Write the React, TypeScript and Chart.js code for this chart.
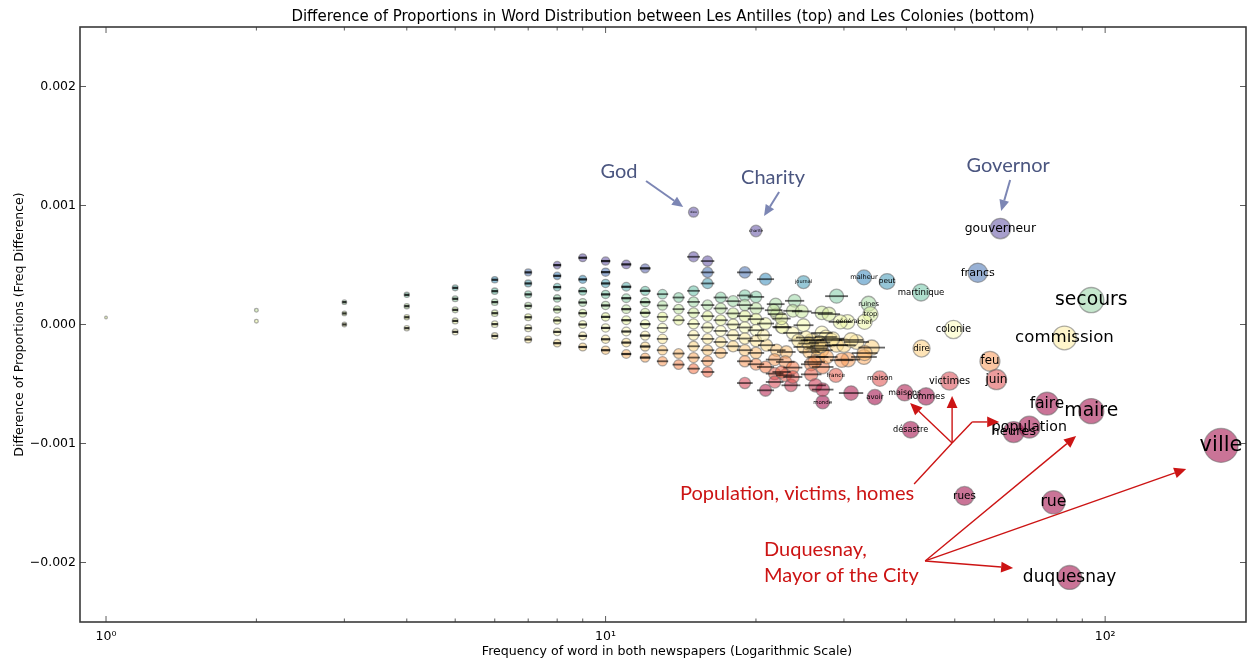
import { useEffect, useRef } from 'react';
import { Chart, registerables } from 'chart.js';

Chart.register(...registerables);

// ---------- DATA ----------
const TITLE = 'Difference of Proportions in Word Distribution between Les Antilles (top) and Les Colonies (bottom)';
const X_TITLE = 'Frequency of word in both newspapers (Logarithmic Scale)';
const Y_TITLE = 'Difference of Proportions (Freq Difference)';

const xTickValues = [1, 10, 100];
const xTickLabels = ['10\u2070', '10\u00b9', '10\u00b2'];
const yTickValues = [-0.002, -0.001, 0, 0.001, 0.002];
const yTickLabels = ['\u22120.002', '\u22120.001', '0.000', '0.001', '0.002'];

// unlabeled / illegible words: total frequency and difference (x 1e-4)
const cloudFreq = [
  1,
  2, 2,
  3, 3, 3,
  4, 4, 4, 4,
  5, 5, 5, 5, 5,
  6, 6, 6, 6, 6, 6,
  7, 7, 7, 7, 7, 7, 7,
  8, 8, 8, 8, 8, 8, 8, 8,
  9, 9, 9, 9, 9, 9, 9, 9,
  10, 10, 10, 10, 10, 10, 10, 10, 10,
  11, 11, 11, 11, 11, 11, 11, 11,
  12, 12, 12, 12, 12, 12, 12, 12,
  13, 13, 13, 13, 13, 13, 13,
  14, 14, 14, 14, 14,
  15, 15, 15, 15, 15, 15, 15, 15, 15,
  16, 16, 16, 16, 16, 16, 16, 16, 16, 16,
  17, 17, 17, 17, 17, 17,
  18, 18, 18, 18, 18,
  19, 19, 19, 19, 19, 19, 19, 19, 19,
  20, 20, 20, 20, 20, 20, 20,
  20.9, 21.9, 22.0, 23.9, 23.7, 24.7, 27.1, 28.0, 29.0, 29.5,
  24.9, 22.5, 23.7, 27.1, 26.1, 27.6, 28.3, 29.0, 30.0, 31.8,
  34.1, 30.6, 32.9, 24.9, 25.6, 26.6, 27.1, 21.0, 22.0, 23.0,
  21.8, 22.9, 25.8, 27.2, 23.7, 22.9, 21.8, 25.8, 21.8, 23.5,
  26.3, 27.2, 20.9, 31.0, 22.6, 20.9, 21.7, 22.5, 20.7, 25.8,
  26.5, 27.7, 26.2, 22.5, 23.7, 20.9, 25.2, 26.8, 28.5, 27.0,
  25.5, 24.3, 31.0, 33.0, 29.7,
];
const cloudDiffE4 = [
  0.59,
  1.2, 0.28,
  1.88, 0.93, 0.0,
  2.49, 1.54, 0.61, -0.31,
  3.08, 2.16, 1.23, 0.30, -0.62,
  3.76, 2.80, 1.88, 0.95, 0.03, -0.96,
  4.38, 3.45, 2.53, 1.57, 0.61, -0.31, -1.26,
  4.99, 4.09, 3.14, 2.19, 1.26, 0.34, -0.62, -1.57,
  5.61, 3.79, 2.80, 1.85, 0.95, 0.0, -0.96, -1.89,
  5.33, 4.40, 3.45, 2.53, 1.60, 0.64, -0.29, -1.24, -2.16,
  5.05, 3.17, 2.21, 1.29, 0.36, -0.59, -1.52, -2.48,
  4.72, 2.83, 1.88, 0.98, 0.03, -0.93, -1.85, -2.78,
  2.55, 1.60, 0.64, -0.29, -1.21, -2.16, -3.09,
  2.27, 1.29, 0.36, -2.44, -3.37,
  5.69, 2.83, 1.90, 0.98, 0.05, -0.90, -1.83, -2.78, -3.71,
  5.33, 4.38, 3.45, 1.63, 0.70, -0.25, -1.21, -2.16, -3.07, -3.99,
  2.27, 1.35, 0.36, -0.54, -1.47, -2.39,
  1.96, 0.93, 0.0, -0.90, -1.83,
  4.38, 2.44, 1.63, 0.70, -0.25, -1.18, -2.16, -3.09, -4.92,
  2.32, 1.35, 0.45, -0.48, -1.38, -2.39, -3.34,
  3.81, 1.71, 0.87, 1.99, 1.15, 1.10, 0.98, 0.87, 2.38, 0.22,
  -0.06, -0.2, -0.71, -0.71, -1.32, -1.05, -1.32, -1.74, -1.74, -1.47,
  -1.94, -2.95, -2.73, -1.89, -2.31, -2.73, -2.16, -1.74, -2.16, -2.31,
  -2.95, -3.15, -3.34, -3.57, -3.62, -4.27, -4.13, -4.19, -4.83, -5.11,
  -5.11, -5.47, -5.53, -5.76, -0.25, 0.08, 1.2, 0.5, -0.9, -1.32,
  -2.0, -2.73, -3.15, -3.99, -4.41, -3.57, -1.1, -1.5, -1.2, -1.8,
  -1.6, -1.35, -1.3, -2.4, -3.0,
];

// labelled words
const wordLabel = [
  'dieu', 'charité', 'journal', 'malheur', 'peut', 'martinique', 'ruines', 'trop', 'général', 'chef',
  'france', 'monde', 'maison', 'avoir', 'maisons', 'hommes', 'désastre', 'dire', 'colonie', 'victimes',
  'francs', 'gouverneur', 'feu', 'juin', 'rues', 'heures', 'population', 'faire', 'rue', 'commission',
  'duquesnay', 'maire', 'secours', 'ville',
];
const wordFreq = [
  15, 20, 24.9, 32.9, 36.6, 42.8, 33.6, 33.9, 30.5, 33.0,
  28.9, 27.2, 35.4, 34.6, 39.7, 43.8, 40.8, 42.9, 49.7, 48.8,
  55.6, 61.7, 58.8, 60.6, 52.3, 65.6, 70.5, 76.5, 78.8, 82.9,
  84.9, 93.8, 93.8, 170.6,
];
const wordDiffE4 = [
  9.44, 7.86, 3.56, 3.96, 3.62, 2.69, 1.74, 0.86, 0.22, 0.22,
  -4.27, -6.52, -4.55, -6.10, -5.73, -6.04, -8.84, -2.02, -0.42, -4.75,
  4.35, 8.06, -3.09, -4.63, -14.4, -9.04, -8.62, -6.65, -14.94, -1.13,
  -21.26, -7.28, 2.05, -10.16,
];

// annotations (data coordinates)
const noteText = ['God', 'Charity', 'Governor', 'Population, victims, homes', 'Duquesnay,', 'Mayor of the City'];
const noteX = [10.64, 21.64, 63.95, 24.17, 20.76, 20.76];
const noteY = [0.001282, 0.001239, 0.001332, -0.001424, -0.001887, -0.002113];
const noteAlign = ['center', 'center', 'center', 'center', 'left', 'left'];
const noteRed = [false, false, false, true, true, true];

// arrows with heads: from (x1,y1) to (x2,y2)
const arrowX1 = [12.05, 22.25, 64.54, 49.39, 49.39, 54.17, 43.62, 43.62, 43.62];
const arrowY1 = [0.001206, 0.001113, 0.001214, -0.000996, -0.000996, -0.000819, -0.001987, -0.001987, -0.001987];
const arrowX2 = [14.30, 20.76, 61.92, 40.70, 49.39, 61.36, 65.43, 87.48, 145.3];
const arrowY2 = [0.000987, 0.000912, 0.000954, -0.000660, -0.000601, -0.000819, -0.002046, -0.000937, -0.001214];
const arrowRed = [false, false, false, true, true, true, true, true, true];
// plain red connector lines
const lineX1 = [41.46, 49.39];
const lineY1 = [-0.001340, -0.000996];
const lineX2 = [49.39, 54.17];
const lineY2 = [-0.000996, -0.000819];

// ---------- STYLE HELPERS ----------
const SPECTRAL = [
  [158, 1, 66], [213, 62, 79], [244, 109, 67], [253, 174, 97], [254, 224, 139], [255, 255, 191],
  [230, 245, 152], [171, 221, 164], [102, 194, 165], [50, 136, 189], [94, 79, 162],
];
function spectral(t: number) {
  const c = Math.max(0, Math.min(1, t));
  const p = c * 10;
  const i = Math.min(9, Math.floor(p));
  const f = p - i;
  const a = SPECTRAL[i], b = SPECTRAL[i + 1];
  return a.map((v, k) => Math.round(v + (b[k] - v) * f));
}
function fillFor(y: number) {
  const [r, g, b] = spectral((y + 6e-4) / 11e-4);
  return `rgba(${r},${g},${b},0.55)`;
}
const radiusFor = (f: number) => 1.3 * Math.sqrt(f);
const fontFor = (f: number) => Math.min(f / 5, 21);

const FONT = '"DejaVu Sans", sans-serif';
const NOTE_FONT = 'Lato, "Open Sans", sans-serif';
const BLUE_TEXT = '#4b5680';
const BLUE_ARROW = '#7c86b4';
const RED = '#cc1414';

function drawArrow(ctx: CanvasRenderingContext2D, x1: number, y1: number, x2: number, y2: number, color: string, lw: number, head: number) {
  const ang = Math.atan2(y2 - y1, x2 - x1);
  const bx = x2 - head * Math.cos(ang);
  const by = y2 - head * Math.sin(ang);
  ctx.strokeStyle = color;
  ctx.fillStyle = color;
  ctx.lineWidth = lw;
  ctx.beginPath();
  ctx.moveTo(x1, y1);
  ctx.lineTo(bx, by);
  ctx.stroke();
  const hw = head * 0.45;
  ctx.beginPath();
  ctx.moveTo(x2, y2);
  ctx.lineTo(bx + hw * Math.sin(ang), by - hw * Math.cos(ang));
  ctx.lineTo(bx - hw * Math.sin(ang), by + hw * Math.cos(ang));
  ctx.closePath();
  ctx.fill();
}

const overlay = {
  id: 'overlay',
  afterDatasetsDraw(chart: any) {
    const ctx: CanvasRenderingContext2D = chart.ctx;
    const ca = chart.chartArea;
    ctx.save();
    ctx.beginPath();
    ctx.rect(ca.left, ca.top, ca.right - ca.left, ca.bottom - ca.top);
    ctx.clip();
    // illegible tiny labels of the unlabeled words
    const m0 = chart.getDatasetMeta(0);
    m0.data.forEach((el: any, i: number) => {
      const f = cloudFreq[i];
      if (f < 3) return;
      const fs = fontFor(f);
      const w = 3.6 * fs + 2;
      const h = fs < 2.5 ? 2.2 : 1.8;
      ctx.fillStyle = fs < 2.5 ? 'rgba(0,0,0,0.8)' : 'rgba(0,0,0,0.6)';
      ctx.fillRect(el.x - w / 2, el.y - h / 2, w, h);
    });
    // word labels
    const m1 = chart.getDatasetMeta(1);
    ctx.fillStyle = '#000';
    ctx.textAlign = 'center';
    ctx.textBaseline = 'middle';
    m1.data.forEach((el: any, i: number) => {
      const fs = fontFor(wordFreq[i]);
      ctx.font = `${fs}px ${FONT}`;
      ctx.fillText(wordLabel[i], el.x, el.y);
    });
    ctx.restore();
  },
  afterDraw(chart: any) {
    const ctx: CanvasRenderingContext2D = chart.ctx;
    const ca = chart.chartArea;
    const xs = chart.scales.x;
    const ys = chart.scales.y;
    ctx.save();
    // frame
    ctx.strokeStyle = '#3a3a3a';
    ctx.lineWidth = 1.6;
    ctx.strokeRect(ca.left, ca.top, ca.right - ca.left, ca.bottom - ca.top);
    // ticks (inward, all sides)
    ctx.strokeStyle = '#333';
    ctx.lineWidth = 0.8;
    const tick = (x1: number, y1: number, x2: number, y2: number) => {
      ctx.beginPath(); ctx.moveTo(x1, y1); ctx.lineTo(x2, y2); ctx.stroke();
    };
    for (let d = 0; d <= 2; d++) {
      for (let k = 1; k <= 9; k++) {
        const v = k * Math.pow(10, d);
        if (v < xs.min || v > xs.max) continue;
        const px = xs.getPixelForValue(v);
        const len = k === 1 ? 6 : 3.5;
        tick(px, ca.bottom, px, ca.bottom - len);
        tick(px, ca.top, px, ca.top + len);
      }
    }
    yTickValues.forEach((v) => {
      const py = ys.getPixelForValue(v);
      tick(ca.left, py, ca.left + 6, py);
      tick(ca.right, py, ca.right - 6, py);
    });
    // title and axis titles
    ctx.fillStyle = '#000';
    ctx.textAlign = 'center';
    ctx.textBaseline = 'middle';
    ctx.font = `15px ${FONT}`;
    ctx.fillText(TITLE, (ca.left + ca.right) / 2, 17);
    ctx.font = `12.6px ${FONT}`;
    ctx.fillText(X_TITLE, (ca.left + ca.right) / 2 + 4, 652);
    ctx.save();
    ctx.translate(20, (ca.top + ca.bottom) / 2);
    ctx.rotate(-Math.PI / 2);
    ctx.font = `12.5px ${FONT}`;
    ctx.fillText(Y_TITLE, 0, 0);
    ctx.restore();
    // annotation text
    noteText.forEach((t, i) => {
      ctx.font = `20px ${NOTE_FONT}`;
      ctx.fillStyle = noteRed[i] ? RED : BLUE_TEXT;
      ctx.textAlign = noteAlign[i] as CanvasTextAlign;
      ctx.fillText(t, xs.getPixelForValue(noteX[i]), ys.getPixelForValue(noteY[i]));
    });
    // connector lines
    lineX1.forEach((_, i) => {
      ctx.strokeStyle = RED;
      ctx.lineWidth = 1.4;
      ctx.beginPath();
      ctx.moveTo(xs.getPixelForValue(lineX1[i]), ys.getPixelForValue(lineY1[i]));
      ctx.lineTo(xs.getPixelForValue(lineX2[i]), ys.getPixelForValue(lineY2[i]));
      ctx.stroke();
    });
    // arrows
    arrowX1.forEach((_, i) => {
      drawArrow(
        ctx,
        xs.getPixelForValue(arrowX1[i]), ys.getPixelForValue(arrowY1[i]),
        xs.getPixelForValue(arrowX2[i]), ys.getPixelForValue(arrowY2[i]),
        arrowRed[i] ? RED : BLUE_ARROW,
        arrowRed[i] ? 1.4 : 2,
        arrowRed[i] ? 12 : 11,
      );
    });
    ctx.restore();
  },
};

export default function App() {
  const ref = useRef<HTMLCanvasElement | null>(null);
  useEffect(() => {
    const canvas = ref.current;
    if (!canvas) return;
    const pointStyle = {
      backgroundColor: (c: any) => (c.raw ? fillFor(c.raw.y) : 'gray'),
      borderColor: 'rgba(105,105,105,0.55)',
      borderWidth: 1.3,
      pointRadius: (c: any) => (c.raw ? radiusFor(c.raw.x) : 2),
      pointHoverRadius: (c: any) => (c.raw ? radiusFor(c.raw.x) : 2),
    };
    const chart = new Chart(canvas, {
      type: 'scatter',
      data: {
        datasets: [
          {
            data: cloudFreq.map((f, i) => ({ x: f, y: cloudDiffE4[i] * 1e-4 })),
            ...pointStyle,
          } as any,
          {
            data: wordFreq.map((f, i) => ({ x: f, y: wordDiffE4[i] * 1e-4 })),
            ...pointStyle,
          } as any,
        ],
      },
      options: {
        animation: false,
        responsive: false,
        maintainAspectRatio: false,
        events: [],
        layout: { autoPadding: false, padding: { top: 27, right: 2, left: 0, bottom: 0 } },
        plugins: {
          legend: { display: false },
          tooltip: { enabled: false },
          title: { display: false },
        },
        scales: {
          x: {
            type: 'logarithmic',
            min: 0.887,
            max: 191.4,
            grid: { display: false, drawTicks: false },
            border: { display: false },
            afterBuildTicks: (s: any) => {
              s.ticks = xTickValues.map((v) => ({ value: v }));
            },
            afterFit: (s: any) => {
              s.height = 38;
              s.paddingLeft = 0;
              s.paddingRight = 0;
            },
            ticks: {
              autoSkip: false,
              maxRotation: 0,
              padding: 7,
              color: '#000',
              font: { family: 'DejaVu Sans', size: 12.5 },
              callback: (v: any) => {
                const i = xTickValues.indexOf(Number(v));
                return i >= 0 ? xTickLabels[i] : '';
              },
            },
          },
          y: {
            type: 'linear',
            min: -0.0025,
            max: 0.0025,
            grid: { display: false, drawTicks: false },
            border: { display: false },
            afterBuildTicks: (s: any) => {
              s.ticks = yTickValues.map((v) => ({ value: v }));
            },
            afterFit: (s: any) => {
              s.width = 80;
              s.paddingTop = 0;
              s.paddingBottom = 0;
            },
            ticks: {
              autoSkip: false,
              padding: 4,
              color: '#000',
              font: { family: 'DejaVu Sans', size: 12.5 },
              callback: (v: any) => {
                const i = yTickValues.findIndex((t) => Math.abs(t - Number(v)) < 1e-9);
                return i >= 0 ? yTickLabels[i] : '';
              },
            },
          },
        },
      } as any,
      plugins: [overlay as any],
    });
    return () => chart.destroy();
  }, []);
  return (
    <div style={{ position: 'absolute', left: 0, top: 0, width: 1248, height: 660, background: '#fff' }}>
      <canvas ref={ref} width={1248} height={660} style={{ display: 'block' }} />
    </div>
  );
}
